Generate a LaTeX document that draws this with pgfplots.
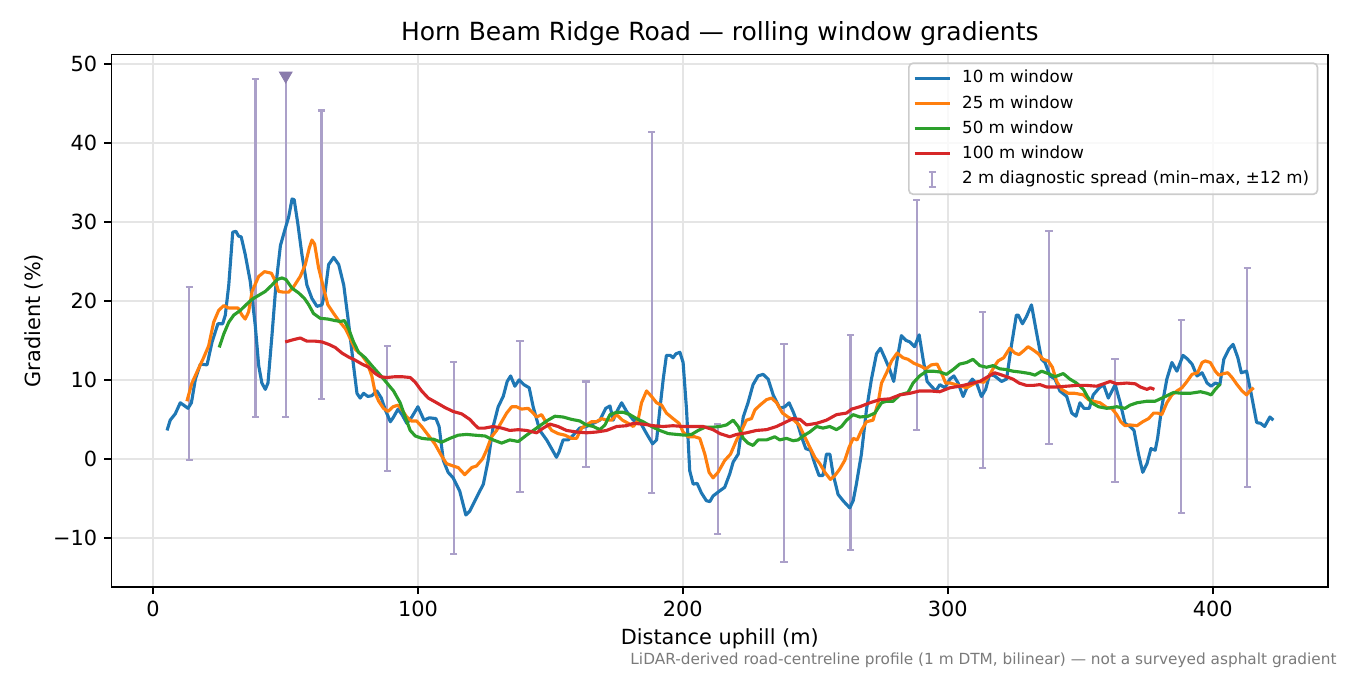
\documentclass[border=0pt]{standalone}
\usepackage{fontspec}
\setmainfont{DejaVu Sans}
\usepackage{pgfplots}
\usepackage{pgfplotstable}
\pgfplotsset{compat=1.18}

\definecolor{c10}{HTML}{1F77B4}
\definecolor{c25}{HTML}{FF7F0E}
\definecolor{c50}{HTML}{2CA02C}
\definecolor{c100}{HTML}{D62728}
\definecolor{barcol}{HTML}{ABA0C9}
\definecolor{tricol}{HTML}{8A7BAC}
\definecolor{notegray}{HTML}{7A7A7A}

% 2 m diagnostic spread, min and max over +-12 m
\pgfplotstableread{
x lo hi
13.7 -0.1 21.8
38.7 5.3 48.1
50.1 5.3 48.3
63.6 7.6 44.1
88.5 -1.5 14.3
113.5 -12.0 12.3
138.5 -4.2 14.9
163.4 -1.0 9.8
188.3 -4.3 41.4
213.2 -9.5 4.4
238.2 -13.1 14.5
263.3 -11.5 15.7
288.3 3.7 32.8
313.2 -1.1 18.6
338.2 1.9 28.8
363.1 -2.9 12.7
388.2 -6.8 17.6
413.1 -3.6 24.2
}\spread

\pgfplotstableread{
x g
5.3 3.6
6.5 4.9
8.4 5.7
10.3 7.1
11.6 6.8
13.2 6.4
14.5 7.1
16.0 10.1
17.9 12.0
20.4 11.9
22.3 14.8
24.5 17.1
26.3 17.1
27.3 18.2
28.6 22.0
30.1 28.7
31.3 28.8
32.3 28.2
33.3 28.1
34.8 25.9
36.7 22.5
38.6 16.9
39.9 11.8
41.1 9.6
42.4 8.8
43.4 9.6
44.9 15.6
46.4 22.0
48.1 27.0
49.7 28.9
51.2 30.6
52.5 32.9
53.3 32.8
54.7 29.7
56.2 25.9
58.1 22.0
60.0 20.3
61.9 19.3
63.8 19.5
65.0 21.2
66.3 24.6
68.2 25.5
70.1 24.6
72.0 22.0
73.8 17.3
75.7 11.8
77.0 8.3
78.2 7.7
79.5 8.3
81.1 7.9
82.6 8.0
84.5 8.6
86.2 7.7
87.7 6.2
89.6 4.7
90.8 5.3
92.5 6.3
94.0 5.6
95.8 4.5
97.7 5.3
100.0 6.6
102.3 4.9
104.3 5.2
106.8 5.1
108.0 4.1
109.6 -0.2
111.4 -1.7
113.3 -2.4
115.8 -4.1
118.1 -7.1
119.6 -6.6
122.1 -4.9
124.7 -3.2
126.5 -0.2
128.4 4.1
130.3 6.6
132.2 7.9
133.7 9.8
135.0 10.5
136.6 9.2
138.2 10.0
140.0 9.4
142.0 9.0
143.5 6.6
146.0 3.6
148.6 2.4
150.8 1.1
152.3 0.2
153.3 0.9
154.8 2.4
156.7 2.4
158.6 3.0
161.1 3.9
163.6 4.1
166.2 4.5
168.7 4.9
170.9 6.4
172.5 6.7
173.7 4.9
175.4 6.2
176.9 7.1
178.8 6.0
181.3 4.9
183.8 4.7
186.3 3.2
188.6 1.9
190.1 2.4
191.3 6.2
192.6 10.1
193.8 13.1
195.3 13.1
196.3 12.8
197.4 13.3
198.9 13.5
200.1 12.2
201.4 6.2
202.6 -1.5
203.9 -3.2
205.4 -3.1
207.0 -4.3
208.9 -5.3
210.2 -5.4
211.4 -4.7
213.7 -4.1
215.8 -3.6
217.7 -1.9
219.0 -0.4
220.9 0.6
222.8 5.3
224.6 7.1
226.5 9.4
228.4 10.5
230.3 10.7
232.2 10.1
234.1 8.1
236.6 6.4
238.5 6.6
240.1 7.1
241.6 6.0
243.1 4.7
244.8 2.8
246.4 1.3
248.2 1.1
249.8 -0.6
251.4 -2.1
252.9 -2.1
254.2 0.6
255.5 0.6
256.7 -1.9
258.6 -4.5
260.5 -5.3
263.0 -6.2
264.3 -5.3
265.5 -3.2
267.4 0.6
269.3 6.2
271.2 10.1
273.1 13.3
274.6 14.0
276.2 12.8
278.1 11.3
279.6 9.8
280.9 12.6
282.5 15.6
284.2 15.0
285.7 14.8
287.5 14.2
289.2 15.7
290.7 12.6
292.2 9.8
293.8 9.2
295.5 8.6
297.0 9.4
298.9 9.0
300.8 10.1
302.3 10.5
303.9 9.6
305.8 7.9
307.7 9.4
309.3 10.1
311.1 9.4
312.7 7.9
314.3 8.8
315.8 10.7
317.7 10.5
320.3 9.8
322.2 10.1
324.0 14.3
325.9 18.2
326.6 18.2
328.2 17.1
329.7 18.0
331.6 19.5
333.5 16.0
335.4 12.6
336.7 12.2
338.6 10.5
340.5 10.1
342.3 8.6
344.9 7.9
346.8 5.8
348.4 5.4
349.9 7.1
351.4 6.4
353.4 6.4
354.9 8.1
357.2 9.0
358.8 9.4
360.6 7.7
363.2 9.4
365.1 7.1
366.9 4.5
368.8 4.1
370.3 3.6
372.0 0.6
373.6 -1.7
375.2 -0.6
376.7 1.3
378.3 1.1
379.2 2.6
380.8 6.6
382.7 10.1
384.6 12.2
386.5 11.1
388.8 13.1
390.3 12.7
392.2 12.0
394.1 10.5
396.0 10.9
397.9 9.6
399.4 9.2
401.0 9.6
402.7 9.4
404.2 12.6
406.1 13.9
407.7 14.5
409.5 12.8
410.8 10.9
412.8 11.1
414.5 8.3
416.6 4.6
418.1 4.5
419.6 4.1
421.6 5.3
422.9 4.9
}\wten

\pgfplotstableread{
x g
12.8 7.3
14.7 9.6
17.0 11.3
19.1 12.8
21.0 14.3
22.9 17.3
24.8 18.8
26.7 19.4
28.6 19.1
31.0 19.1
32.1 19.1
33.6 18.2
34.8 17.7
36.1 18.6
37.4 21.2
39.9 23.1
42.1 23.7
44.7 23.5
46.2 22.5
47.4 21.2
49.3 21.1
51.2 21.1
53.1 21.8
55.6 23.1
57.5 24.6
59.0 26.7
60.0 27.7
61.0 27.2
62.5 24.2
64.4 21.6
66.0 19.5
68.2 18.4
70.1 17.5
72.6 16.5
74.5 15.2
76.3 13.9
78.9 13.1
80.8 12.2
82.6 10.5
83.9 8.3
85.2 7.3
87.0 6.4
88.7 6.0
90.6 6.6
92.5 6.8
94.0 6.2
95.8 5.3
97.5 4.8
99.5 4.8
101.4 4.1
103.9 3.0
106.4 1.9
108.9 0.4
110.8 -0.6
113.3 -0.9
115.2 -1.1
117.7 -2.0
120.3 -1.1
122.1 -0.9
124.4 0.0
125.9 1.1
127.8 2.8
129.7 3.6
131.6 4.7
133.5 5.8
135.4 6.6
137.2 6.6
139.1 6.3
141.6 6.4
143.5 5.8
144.8 5.3
146.7 5.6
148.6 4.5
150.5 3.6
152.9 3.2
155.5 3.0
158.0 2.6
159.9 2.6
161.8 3.9
163.6 4.3
165.5 4.7
167.4 4.7
169.3 5.1
171.2 4.9
173.1 4.9
175.0 5.6
177.2 4.9
179.4 4.5
181.3 4.1
183.1 4.9
184.4 7.1
186.3 8.6
188.2 7.9
190.1 7.1
192.0 6.8
193.8 5.8
196.3 5.1
198.6 4.5
200.1 3.4
202.0 2.8
204.5 2.8
206.4 2.6
208.3 0.6
209.9 -1.7
211.4 -2.4
213.3 -1.7
215.8 -0.2
218.0 0.6
220.3 2.4
222.2 3.6
224.0 4.9
225.9 5.1
227.2 6.2
229.1 6.8
231.6 7.5
233.5 7.7
235.4 7.1
237.6 5.8
239.7 5.3
241.9 4.9
243.9 4.3
246.0 2.8
247.9 1.5
249.8 0.2
251.7 -0.6
253.6 -1.7
255.7 -2.6
257.4 -2.1
259.2 -1.3
261.1 -0.2
262.8 1.5
264.3 2.6
265.8 2.4
267.4 3.6
269.3 4.7
271.8 4.9
273.7 7.1
275.0 9.6
276.9 10.9
278.8 12.4
280.9 13.4
283.1 12.8
285.0 12.6
287.2 12.1
289.4 11.8
291.7 11.4
293.8 11.9
296.0 12.0
297.6 10.9
299.2 9.6
301.0 9.6
303.0 9.4
305.2 9.2
307.1 9.0
309.3 9.4
311.4 9.8
313.6 9.7
315.6 10.5
317.4 11.6
319.0 12.4
321.1 12.8
323.4 14.0
325.3 13.4
326.9 13.2
328.7 13.7
330.3 14.2
332.2 13.8
334.2 13.3
336.0 12.6
337.9 12.4
339.5 11.6
341.1 9.8
343.0 8.8
345.5 8.3
348.0 8.3
351.2 8.1
353.1 7.5
354.9 7.3
357.5 7.1
360.0 6.5
361.9 6.4
363.8 5.6
365.3 4.7
366.9 4.2
368.8 4.3
371.4 4.2
373.6 4.7
375.8 5.1
377.7 5.8
379.2 5.8
380.8 5.6
382.7 7.1
384.6 8.1
386.5 8.6
388.4 9.0
390.3 9.8
392.2 10.7
394.3 10.9
396.0 12.2
397.2 12.4
399.1 12.2
401.0 11.1
402.3 10.6
404.2 10.8
405.7 10.9
407.3 10.3
409.2 9.4
411.1 8.6
412.8 8.1
414.0 8.6
415.5 9.0
}\wtwentyfive

\pgfplotstableread{
x g
25.0 14.1
26.7 15.8
28.6 17.3
30.5 18.2
33.0 18.8
34.8 19.4
37.4 20.2
39.9 20.7
42.4 21.2
44.9 22.0
46.8 22.7
48.7 22.9
50.2 22.7
52.5 21.6
55.0 21.0
57.2 20.3
58.8 19.5
60.6 18.4
63.1 17.8
66.0 17.7
68.8 17.5
70.7 17.4
72.3 17.5
73.8 16.5
75.7 14.8
77.6 13.5
80.1 12.8
82.6 11.8
85.8 10.6
88.3 9.6
90.8 8.6
93.3 7.1
95.2 5.3
97.1 3.6
99.0 2.9
101.5 2.6
104.0 2.5
105.8 2.5
108.9 2.1
112.1 2.6
115.2 3.0
118.4 3.1
121.5 3.0
125.3 2.9
128.4 2.4
131.6 2.0
134.7 2.4
137.9 2.2
141.0 3.0
144.8 3.9
148.6 4.8
151.7 5.4
154.8 5.3
158.0 5.0
161.1 4.8
163.6 4.3
166.2 4.1
168.7 3.7
170.6 4.3
172.5 5.6
175.0 5.9
177.5 5.9
180.0 5.6
182.5 5.1
185.0 4.7
188.2 4.1
191.3 3.6
194.5 3.2
197.6 3.1
200.8 3.0
203.3 3.1
205.8 3.6
208.3 4.0
210.8 4.0
214.0 4.1
216.5 4.3
219.0 4.9
220.9 4.1
222.8 2.6
224.6 2.0
226.5 1.7
228.4 2.4
231.6 2.4
234.7 2.8
236.6 2.4
239.1 2.6
241.6 2.3
243.5 2.4
245.4 2.9
247.9 3.4
250.5 4.1
252.9 3.9
255.5 4.1
258.0 3.7
259.9 4.1
261.8 4.9
264.3 5.6
266.8 5.3
269.9 5.4
272.5 5.8
275.0 7.1
276.9 7.3
279.4 7.3
281.9 8.1
285.0 8.4
286.9 9.6
289.4 10.5
292.0 11.1
294.5 11.1
297.0 11.0
299.5 10.7
302.0 11.3
304.5 12.0
307.1 12.2
309.5 12.6
312.1 11.8
314.6 11.6
317.1 11.8
319.6 11.4
322.2 11.3
324.6 11.1
327.2 11.0
331.0 10.8
332.9 10.6
335.4 11.1
337.9 10.8
340.5 10.4
343.6 10.8
346.1 10.1
348.6 9.6
351.2 8.8
352.7 7.9
354.3 7.1
356.9 6.6
360.0 6.4
363.8 6.6
366.9 6.4
368.8 6.8
371.4 7.1
375.2 7.3
378.3 7.3
381.5 7.8
385.2 8.4
388.4 8.3
391.5 8.3
395.4 8.5
397.9 8.3
399.4 8.1
401.0 8.8
402.9 9.5
}\wfifty

\pgfplotstableread{
x g
49.9 14.8
53.1 15.1
55.6 15.3
58.1 14.9
61.3 14.9
63.8 14.8
66.3 14.5
68.8 14.1
71.3 13.4
73.8 12.9
76.3 12.5
78.9 12.0
81.4 11.6
83.9 10.8
85.8 10.4
88.3 10.3
91.4 10.4
94.0 10.4
97.1 10.3
99.0 9.7
101.4 8.6
103.9 7.7
107.1 7.1
110.2 6.5
113.3 6.0
116.5 5.7
119.6 5.0
121.5 4.3
122.8 3.9
125.2 3.9
128.4 4.1
131.6 3.9
134.7 3.6
137.9 3.7
141.0 3.6
144.8 3.3
147.3 3.9
149.9 4.4
152.9 4.1
156.1 3.6
159.9 3.4
163.6 3.3
167.4 3.4
171.2 3.6
175.0 4.1
178.8 4.2
181.3 4.5
185.0 4.4
188.8 4.2
192.6 4.1
196.3 4.2
200.1 4.1
203.9 4.1
207.7 4.1
211.4 3.7
214.0 3.2
217.7 2.8
220.3 3.1
224.0 3.3
227.8 3.6
231.6 3.7
235.4 4.1
239.1 4.7
241.6 5.1
244.2 5.0
246.7 4.3
250.5 4.5
254.2 4.9
258.0 5.6
261.8 5.8
263.7 6.3
266.8 6.6
270.6 7.1
274.3 7.5
278.1 7.6
281.9 8.1
285.7 8.3
289.4 8.6
293.2 8.6
297.0 8.5
300.8 9.0
304.5 9.2
308.3 9.5
312.1 9.8
314.6 10.3
317.7 10.9
319.6 10.7
322.2 10.4
324.6 10.1
326.9 9.6
329.7 9.3
332.2 9.3
334.8 9.4
337.3 9.1
341.1 9.1
344.9 9.2
348.6 9.3
352.4 9.3
356.2 9.2
358.8 9.5
361.3 9.8
363.8 9.5
367.6 9.6
370.8 9.5
372.7 9.1
375.2 8.8
376.5 9.0
378.0 8.8
}\whundred

\begin{document}
\begin{tikzpicture}
\begin{axis}[
    at={(0,0)}, anchor=south west,
    scale only axis,
    width=583.8pt, height=255.6pt,
    xmin=-15.6, xmax=443.5,
    ymin=-16.2, ymax=51.2,
    xtick={0,100,200,300,400},
    ytick={-10,0,10,20,30,40,50},
    yticklabels={−10,0,10,20,30,40,50},
    /pgf/number format/assume math mode=true,
    tick label style={font=\fontsize{10}{12}\selectfont},
    tick align=outside,
    major tick length=3.5pt,
    tick style={black, line width=0.8pt},
    axis line style={black, line width=0.8pt},
    xtick pos=bottom, ytick pos=left,
    grid=major,
    major grid style={line width=0.8pt, color=black!10},
    legend cell align=left,
    legend style={
        at={(0.9921,0.985)}, anchor=north east,
        draw=black!20, line width=0.8pt, rounded corners=2pt,
        fill=white, fill opacity=0.8, text opacity=1,
        font=\fontsize{8}{9.6}\selectfont,
        inner xsep=2pt, inner ysep=1.2pt,
        row sep=0pt,
        nodes={inner xsep=2pt, inner ysep=2.05pt, text height=6.2pt, text depth=1.8pt},
        /tikz/every odd column/.append style={column sep=3pt},
    },
]
\addplot[forget plot, draw=none, mark=none,
    error bars/.cd, y dir=both, y explicit,
    error bar style={draw=barcol, line width=1pt},
    error mark options={draw=barcol, rotate=90, mark size=1.75pt, line width=1pt}]
    table[x=x, y expr={(\thisrow{lo}+\thisrow{hi})/2},
          y error expr={(\thisrow{hi}-\thisrow{lo})/2}] {\spread};
\addplot[forget plot, only marks, mark=triangle*, mark size=3.5pt,
    mark options={rotate=180, fill=tricol, draw=tricol}]
    coordinates {(50.1,48.5)};

\addplot[c10, line width=1.5pt, line join=round] table[x=x, y=g] {\wten};
\addlegendentry{10 m window}
\addplot[c25, line width=1.5pt, line join=round] table[x=x, y=g] {\wtwentyfive};
\addlegendentry{25 m window}
\addplot[c50, line width=1.5pt, line join=round] table[x=x, y=g] {\wfifty};
\addlegendentry{50 m window}
\addplot[c100, line width=1.5pt, line join=round] table[x=x, y=g] {\whundred};
\addlegendentry{100 m window}
\addlegendimage{legend image code/.code={
    \path (0cm,0pt) (0.6cm,0pt);
    \draw[barcol, line width=1pt] (0.3cm,-3.6pt) -- (0.3cm,3.6pt)
        (0.3cm-1.75pt,-3.6pt) -- (0.3cm+1.75pt,-3.6pt)
        (0.3cm-1.75pt,3.6pt) -- (0.3cm+1.75pt,3.6pt);}}
\addlegendentry{2 m diagnostic spread (min–max, ±12 m)}
\end{axis}

\node[font=\fontsize{12}{14.4}\selectfont] at (291.9pt,265.4pt)
    {Horn Beam Ridge Road — rolling window gradients};
\node[font=\fontsize{10}{12}\selectfont] at (291.9pt,-25.1pt) {Distance uphill (m)};
\node[font=\fontsize{10}{12}\selectfont, rotate=90] at (-37.3pt,127.8pt) {Gradient (\%)};
\node[font=\fontsize{7.35}{8.8}\selectfont, text=notegray, anchor=east, inner sep=0pt]
    at (588.1pt,-35.2pt)
    {LiDAR-derived road-centreline profile (1 m DTM, bilinear) — not a surveyed asphalt gradient};

\pgfresetboundingbox
\path[use as bounding box] (-53.6pt,-42.4pt) rectangle (594.4pt,281.7pt);
\end{tikzpicture}
\end{document}
